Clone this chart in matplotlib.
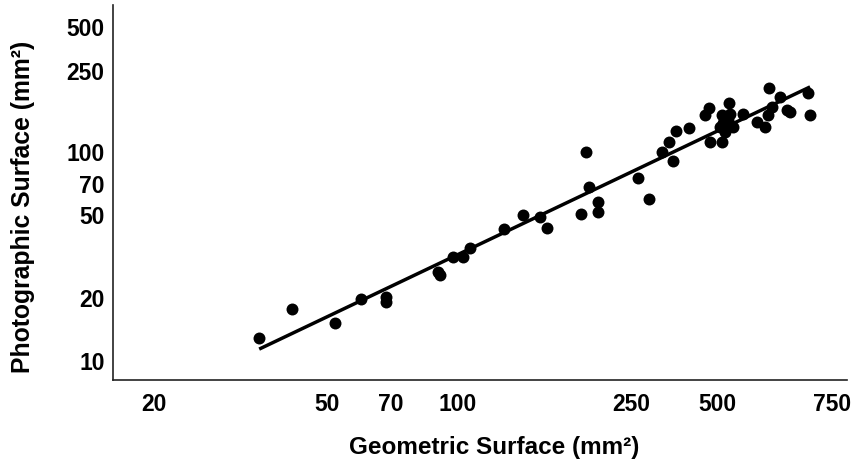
import matplotlib
matplotlib.use('Agg')
import matplotlib.pyplot as plt
import numpy as np

plt.rcParams['font.family'] = ['Liberation Sans', 'DejaVu Sans']
plt.rcParams['font.weight'] = 'bold'

# geometric vs photographic surface (mm2)
geometric = [34.9, 41.5, 52.2, 59.8, 68.3, 68.3, 90.0, 90.9, 97.4, 102.7,
             106.6, 127.6, 141, 154.3, 160.2, 191.8, 196.8, 200, 210, 210,
             259, 275, 294, 305.5, 312, 317, 340, 378, 370, 420,
             404, 422, 407, 400, 429, 411, 380, 404, 418, 452,
             487, 508, 519, 550, 527, 516, 570, 580, 638, 644]
photographic = [12.9, 17.7, 15.2, 19.8, 20.2, 19.2, 26.7, 25.8, 31.4, 31.4,
                34.7, 42.8, 50, 48.9, 43.3, 50.5, 100, 68, 57.6, 51.6,
                75.1, 59.6, 100, 111.6, 90.6, 126, 130, 162, 150, 172,
                150, 152, 138, 132, 132, 125, 111.6, 111.6, 142, 152,
                139, 132, 202, 183, 164, 150, 159, 155, 192, 150]

# regression line end points
fit_x = [34.9, 644]
fit_y = [11.4, 205]

xtick_pos = [20, 50, 70, 100, 250, 395, 722]
xtick_labels = ['20', '50', '70', '100', '250', '500', '750']
ytick_pos = [10, 20, 50, 70, 100, 245, 395]
ytick_labels = ['10', '20', '50', '70', '100', '250', '500']

fig = plt.figure(figsize=(8.56, 4.63), dpi=100)
ax = fig.add_axes([0.132, 0.179, 0.8575, 0.81])

ax.scatter(geometric, photographic, s=74, color='black', zorder=3, linewidths=0)
ax.plot(fit_x, fit_y, color='black', lw=2.5, solid_capstyle='butt', zorder=2)

ax.set_xscale('log')
ax.set_yscale('log')
ax.set_xlim(16.1, 783)
ax.set_ylim(8.1, 505)

ax.xaxis.set_minor_locator(matplotlib.ticker.NullLocator())
ax.yaxis.set_minor_locator(matplotlib.ticker.NullLocator())
ax.set_xticks(xtick_pos)
ax.set_xticklabels(xtick_labels)
ax.set_yticks(ytick_pos)
ax.set_yticklabels(ytick_labels)
ax.tick_params(axis='both', length=0, labelsize=16.5)
ax.tick_params(axis='x', pad=9)
ax.tick_params(axis='y', pad=6)

for s in ['top', 'right']:
    ax.spines[s].set_visible(False)
for s in ['left', 'bottom']:
    ax.spines[s].set_linewidth(1.2)
    ax.spines[s].set_color('#222222')

ax.set_xlabel('Geometric Surface (mm²)', fontsize=17.5, fontweight='bold')
ax.set_ylabel('Photographic Surface (mm²)', fontsize=17.8, fontweight='bold')
ax.xaxis.set_label_coords(0.52, -0.15)
ax.yaxis.set_label_coords(-0.106, 0.462)

fig.savefig('out.png', dpi=100)
